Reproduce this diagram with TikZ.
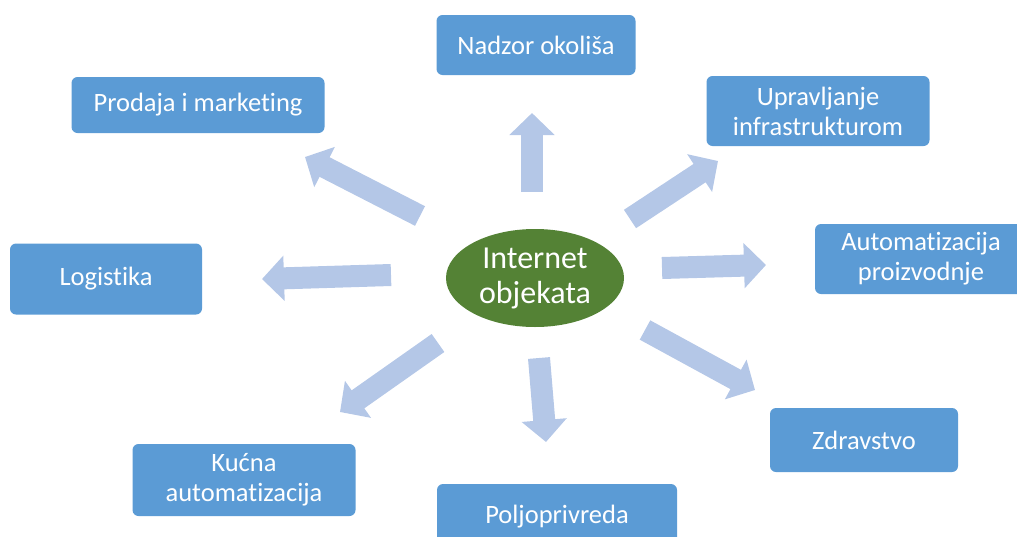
\documentclass[tikz,border=0pt]{standalone}
\usepackage{fontspec}
\setmainfont{Carlito}[Ligatures=NoCommon]
\usetikzlibrary{arrows.meta,shapes.geometric}
\definecolor{boxblue}{HTML}{5B9BD5}
\definecolor{arrblue}{HTML}{B4C7E7}
\definecolor{iotgreen}{HTML}{548235}
\tikzset{
  area/.style={draw=none, fill=boxblue, rounded corners=6pt, text=white, align=center,
    font=\fontsize{26.5}{30}\selectfont, inner sep=0pt},
  blockarrow/.style={draw=arrblue, line width=22pt,
    -{Triangle[width=44pt,length=22pt]}},
}
\begin{document}
\begin{tikzpicture}[x=1pt,y=-1pt]
\useasboundingbox (0,0) rectangle (1017,536);
% center
\node[ellipse, fill=iotgreen, draw=none, minimum width=178pt, minimum height=98pt,
  inner sep=0pt, text=white, align=center, font=\fontsize{32}{35}\selectfont] (iot) at (535,278) {Internet\\objekata};
% areas
\node[area, minimum width=199pt, minimum height=60pt] (nadzor) at (536,45) {Nadzor okoliša};
\node[area, minimum width=253pt, minimum height=56pt] (prodaja) at (198,105) {Prodaja i marketing};
\node[area, minimum width=223pt, minimum height=70pt] (uprav) at (818,111) {Upravljanje\\infrastrukturom};
\node[area, minimum width=192pt, minimum height=71pt] (logist) at (106,279) {Logistika};
\node[area, minimum width=212pt, minimum height=70pt] (autom) at (921,259) {Automatizacija\\proizvodnje};
\node[area, minimum width=188pt, minimum height=64pt] (zdrav) at (864,440) {Zdravstvo};
\node[area, minimum width=223pt, minimum height=72pt] (kucna) at (244,480) {Kućna\\automatizacija};
\node[area, minimum width=240pt, minimum height=66pt, text depth=0pt] (polj) at (557,517) {\raisebox{5pt}{Poljoprivreda}};
% arrow coordinates
\coordinate (tN) at (532,192);  \coordinate (hN) at (532,113);
\coordinate (tNW) at (420,216); \coordinate (hNW) at (305,157);
\coordinate (tW) at (391,275);  \coordinate (hW) at (262,279);
\coordinate (tSW) at (438,343); \coordinate (hSW) at (340,412);
\coordinate (tS) at (539,358);  \coordinate (hS) at (546,442);
\coordinate (tSE) at (645,330); \coordinate (hSE) at (755,390);
\coordinate (tE) at (662,268);  \coordinate (hE) at (766,265);
\coordinate (tNE) at (630,219); \coordinate (hNE) at (718,161);
\foreach \d in {N,NW,W,SW,S,SE,E,NE}{
  \draw[blockarrow] (t\d) -- (h\d);
}
\end{tikzpicture}
\end{document}
